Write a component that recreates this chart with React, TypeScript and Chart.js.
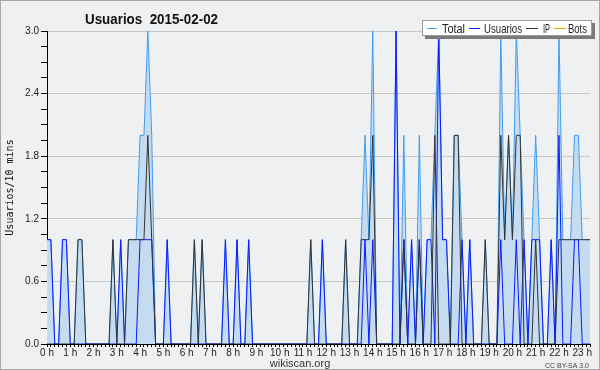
import React, { useEffect, useRef } from "react";
import { Chart, registerables } from "chart.js";

Chart.register(...registerables);

// 10-minute buckets, one row per hour (0 h ... 23 h)
const hourLabels = [
  "0 h", "1 h", "2 h", "3 h", "4 h", "5 h", "6 h", "7 h", "8 h", "9 h", "10 h", "11 h",
  "12 h", "13 h", "14 h", "15 h", "16 h", "17 h", "18 h", "19 h", "20 h", "21 h", "22 h", "23 h",
];

const total = [
  1, 1, 0, 0, 1, 1,
  0, 0, 1, 1, 0, 0,
  0, 0, 0, 0, 0, 1,
  0, 1, 0, 1, 1, 1,
  2, 2, 3, 2, 0, 0,
  0, 1, 0, 0, 0, 0,
  0, 0, 1, 0, 1, 0,
  0, 0, 0, 0, 1, 0,
  0, 1, 0, 0, 1, 0,
  0, 0, 0, 0, 0, 0,
  0, 0, 0, 0, 0, 0,
  0, 0, 1, 0, 0, 1,
  0, 0, 0, 0, 0, 1,
  0, 0, 0, 1, 2, 1,
  3, 0, 0, 0, 0, 0,
  3, 0, 2, 0, 1, 0,
  2, 0, 1, 1, 2, 3,
  1, 1, 0, 2, 2, 1,
  0, 1, 0, 0, 0, 1,
  0, 0, 0, 3, 1, 2,
  1, 3, 2, 1, 0, 1,
  2, 1, 0, 0, 1, 0,
  3, 1, 1, 1, 2, 2,
  1, 1, 1,
];

const usuarios = [
  1, 1, 0, 0, 1, 1,
  0, 0, 0, 0, 0, 0,
  0, 0, 0, 0, 0, 0,
  0, 1, 0, 0, 0, 0,
  1, 1, 1, 1, 0, 0,
  0, 1, 0, 0, 0, 0,
  0, 0, 0, 0, 0, 0,
  0, 0, 0, 0, 1, 0,
  0, 1, 0, 0, 1, 0,
  0, 0, 0, 0, 0, 0,
  0, 0, 0, 0, 0, 0,
  0, 0, 0, 0, 0, 1,
  0, 0, 0, 0, 0, 0,
  0, 0, 0, 0, 1, 0,
  1, 0, 0, 0, 0, 0,
  3, 0, 1, 0, 1, 0,
  1, 0, 1, 1, 0, 3,
  1, 1, 0, 0, 0, 1,
  0, 1, 0, 0, 0, 0,
  0, 0, 0, 1, 0, 0,
  0, 1, 0, 1, 0, 1,
  1, 1, 0, 0, 1, 0,
  2, 0, 0, 0, 1, 1,
  0, 0, 0,
];

const ip = [
  0, 0, 0, 0, 0, 0,
  0, 0, 1, 1, 0, 0,
  0, 0, 0, 0, 0, 1,
  0, 0, 0, 1, 1, 1,
  1, 1, 2, 1, 0, 0,
  0, 0, 0, 0, 0, 0,
  0, 0, 1, 0, 1, 0,
  0, 0, 0, 0, 0, 0,
  0, 0, 0, 0, 0, 0,
  0, 0, 0, 0, 0, 0,
  0, 0, 0, 0, 0, 0,
  0, 0, 1, 0, 0, 0,
  0, 0, 0, 0, 0, 1,
  0, 0, 0, 1, 1, 1,
  2, 0, 0, 0, 0, 0,
  0, 0, 1, 0, 0, 0,
  1, 0, 0, 0, 2, 0,
  0, 0, 0, 2, 2, 0,
  0, 0, 0, 0, 0, 1,
  0, 0, 0, 2, 1, 2,
  1, 2, 2, 0, 0, 0,
  1, 0, 0, 0, 0, 0,
  1, 1, 1, 1, 1, 1,
  1, 1, 1,
];

const bots: number[] = [];

const yMin = 0;
const yMax = 3;
const yMajorStep = 0.6;
const yMinorStep = 0.15;

const seriesNames = ["Total", "Usuarios", "IP", "Bots"];
const seriesColors = ["#3d9df2", "#0a1aff", "#333333", "#ff9a00"];
const totalFill = "#c5dcf0";

const FONT = '"Liberation Sans", Arial, sans-serif';

const isMajor = (v: number) => {
  const r = v / yMajorStep;
  return Math.abs(r - Math.round(r)) < 1e-6;
};

const decoPlugin = {
  id: "deco",
  beforeDraw(chart: any) {
    const ctx = chart.ctx;
    ctx.save();
    ctx.fillStyle = "#eff0f1";
    ctx.fillRect(0, 0, chart.width, chart.height);
    ctx.restore();
  },
  afterDraw(chart: any) {
    const ctx = chart.ctx;
    ctx.save();
    // title
    ctx.fillStyle = "#111";
    ctx.font = `bold 14px ${FONT}`;
    ctx.textBaseline = "alphabetic";
    ctx.textAlign = "left";
    ctx.fillText("Usuarios  2015-02-02", 85, 24, 133);

    // legend box
    const bx = 422, by = 20, bw = 170, bh = 16;
    ctx.fillStyle = "#7a7a7a";
    ctx.fillRect(bx + 3, by + 3, bw, bh);
    ctx.fillStyle = "#ffffff";
    ctx.fillRect(bx, by, bw, bh);
    ctx.strokeStyle = "#9a9a9a";
    ctx.lineWidth = 1;
    ctx.strokeRect(bx + 0.5, by + 0.5, bw - 1, bh - 1);
    const items = [
      { line: [427, 437], tx: 442, tw: 23 },
      { line: [469, 480], tx: 484, tw: 38 },
      { line: [526, 538], tx: 543, tw: 7 },
      { line: [554, 566], tx: 568, tw: 19 },
    ];
    ctx.font = `12px ${FONT}`;
    items.forEach((it, k) => {
      ctx.strokeStyle = seriesColors[k];
      ctx.beginPath();
      ctx.moveTo(it.line[0], 28.5);
      ctx.lineTo(it.line[1], 28.5);
      ctx.stroke();
      ctx.fillStyle = "#222";
      ctx.fillText(seriesNames[k], it.tx, 32.5, it.tw);
    });

    // footer
    ctx.fillStyle = "#333";
    ctx.font = `11px ${FONT}`;
    ctx.textAlign = "center";
    ctx.fillText("wikiscan.org", 300, 367);
    ctx.font = `7px ${FONT}`;
    ctx.textAlign = "right";
    ctx.fillStyle = "#444";
    ctx.fillText("CC BY-SA 3.0", 589, 368);

    // outer frame
    ctx.strokeStyle = "#a8a8a8";
    ctx.lineWidth = 1;
    ctx.strokeRect(0.5, 0.5, chart.width - 1, chart.height - 1);
    ctx.restore();
  },
};

export default function App() {
  const ref = useRef<HTMLCanvasElement | null>(null);

  useEffect(() => {
    if (!ref.current) return;
    const labels = total.map((_, i) => (i % 6 === 0 ? hourLabels[i / 6] : ""));
    const line = (label: string, data: number[], color: string, order: number, extra: any = {}) => ({
      label,
      data,
      borderColor: color,
      borderWidth: 1,
      pointRadius: 0,
      tension: 0,
      order,
      fill: false,
      ...extra,
    });
    const chart = new Chart(ref.current, {
      type: "line",
      data: {
        labels,
        datasets: [
          line(seriesNames[0], total, seriesColors[0], 3, { fill: "origin", backgroundColor: totalFill }),
          line(seriesNames[1], usuarios, seriesColors[1], 1),
          line(seriesNames[2], ip, seriesColors[2], 0),
          line(seriesNames[3], bots, seriesColors[3], 2),
        ],
      },
      options: {
        animation: false,
        responsive: false,
        maintainAspectRatio: false,
        layout: { padding: { top: 31, right: 10, bottom: 0, left: 0 } },
        plugins: {
          legend: { display: false },
          title: { display: false },
          tooltip: { enabled: false },
        },
        scales: {
          x: {
            type: "category",
            offset: false,
            afterFit: (s: any) => { s.height = 26; },
            grid: {
              display: true,
              drawOnChartArea: false,
              drawTicks: true,
              tickLength: 3,
              tickColor: "#000",
            },
            border: { display: true, color: "#000", width: 1 },
            ticks: {
              autoSkip: false,
              maxRotation: 0,
              minRotation: 0,
              padding: 0,
              color: "#222",
              font: { family: FONT, size: 10 },
            },
          },
          y: {
            type: "linear",
            min: yMin,
            max: yMax,
            afterFit: (s: any) => { s.width = 47; },
            grid: {
              display: true,
              drawOnChartArea: true,
              drawTicks: true,
              tickLength: 6,
              tickColor: "#000",
              color: (c: any) => (c.tick && isMajor(c.tick.value) ? "#c8c8c8" : "rgba(0,0,0,0)"),
            },
            border: { display: true, color: "#000", width: 1 },
            ticks: {
              stepSize: yMinorStep,
              autoSkip: false,
              maxTicksLimit: 100,
              padding: 2,
              color: "#222",
              font: { family: FONT, size: 10 },
              callback: (v: any) => (isMajor(Number(v)) ? Number(v).toFixed(1) : ""),
            },
            title: {
              display: true,
              text: "Usuarios/10 mins",
              color: "#111",
              font: { family: '"DejaVu Sans Mono", monospace', size: 10 },
              padding: { top: 4, bottom: 0 },
            },
          },
        },
      } as any,
      plugins: [decoPlugin],
    });
    return () => chart.destroy();
  }, []);

  return (
    <div style={{ position: "absolute", left: 0, top: 0, width: 600, height: 370 }}>
      <canvas ref={ref} width={600} height={370} style={{ display: "block", width: 600, height: 370 }} />
    </div>
  );
}
